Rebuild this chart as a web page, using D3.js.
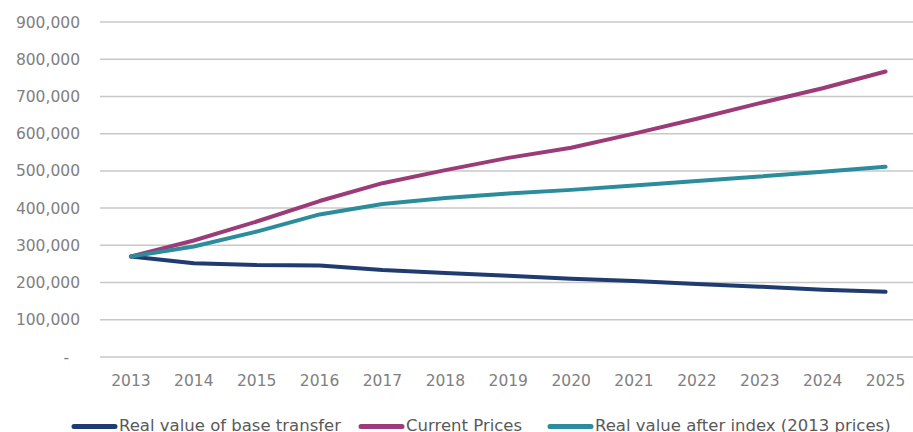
<!DOCTYPE html>
<html lang="en">
<head>
<meta charset="utf-8">
<script src="https://cdn.jsdelivr.net/npm/d3@7"></script>
<style>
  body { margin: 0; background: #fff; }
  svg { display: block; font-family: "DejaVu Sans", sans-serif; }
  .grid line { stroke: #c8c8c8; stroke-width: 1.5px; }
  .tick-label { fill: #808080; font-size: 15.5px; }
  .legend-label { fill: #595959; font-size: 16.5px; }
</style>
</head>
<body>
<svg width="913" height="432"></svg>
<script>
var years = ["2013","2014","2015","2016","2017","2018","2019","2020","2021","2022","2023","2024","2025"];
var yTicks = [0, 100000, 200000, 300000, 400000, 500000, 600000, 700000, 800000, 900000];

var baseTransfer = [270000, 252000, 247000, 246000, 234000, 226000, 218000, 210000, 204000, 196000, 189000, 181000, 175000];
var currentPrices = [270000, 313000, 364000, 419000, 467000, 502000, 535000, 562000, 600000, 640000, 682000, 722000, 767000];
var realAfterIndex = [270000, 297000, 337000, 383000, 411000, 427000, 439000, 449000, 461000, 473000, 485000, 498000, 511000];

var seriesNames = ["Real value of base transfer", "Current Prices", "Real value after index (2013 prices)"];
var seriesColors = ["#1f3b70", "#9b3c79", "#2b8c9c"];

var svg = d3.select("svg");

var x = d3.scaleBand().domain(years).range([99.5, 917]);
var y = d3.scaleLinear().domain([0, 900000]).range([357, 22]);

// gridlines
svg.append("g").attr("class", "grid")
    .selectAll("line")
    .data(yTicks)
    .enter().append("line")
    .attr("x1", 100).attr("x2", 913)
    .attr("y1", function(d) { return y(d); })
    .attr("y2", function(d) { return y(d); });

var fmt = d3.format(",");
svg.append("g").selectAll("text")
    .data(yTicks)
    .enter().append("text")
    .attr("class", "tick-label")
    .attr("x", function(d) { return d == 0 ? 69 : 80; })
    .attr("y", function(d) { return y(d) + 5.5; })
    .attr("text-anchor", "end")
    .text(function(d) { return d == 0 ? "-" : fmt(d); });

svg.append("g").selectAll("text")
    .data(years)
    .enter().append("text")
    .attr("class", "tick-label")
    .attr("x", function(d) { return x(d) + x.bandwidth() / 2; })
    .attr("y", 386)
    .attr("text-anchor", "middle")
    .text(function(d) { return d; });

var series = [baseTransfer, currentPrices, realAfterIndex];
var line = d3.line()
    .x(function(d, i) { return x(years[i]) + x.bandwidth() / 2; })
    .y(function(d) { return y(d); });

series.forEach(function(s, i) {
    svg.append("path")
        .datum(s)
        .attr("fill", "none")
        .attr("stroke", seriesColors[i])
        .attr("stroke-width", 4)
        .attr("stroke-linejoin", "round")
        .attr("stroke-linecap", "round")
        .attr("d", line);
});

// legend
var legendX = [72, 359, 548];
var lg = svg.append("g").selectAll("g")
    .data(seriesNames)
    .enter().append("g")
    .attr("transform", function(d, i) { return "translate(" + legendX[i] + ",426.5)"; });

lg.append("line")
    .attr("x1", 2).attr("x2", 43)
    .attr("y1", 0).attr("y2", 0)
    .attr("stroke", function(d, i) { return seriesColors[i]; })
    .attr("stroke-width", 5)
    .attr("stroke-linecap", "round");

lg.append("text")
    .attr("class", "legend-label")
    .attr("x", 47)
    .attr("y", 4)
    .text(function(d) { return d; });
</script>
</body>
</html>
